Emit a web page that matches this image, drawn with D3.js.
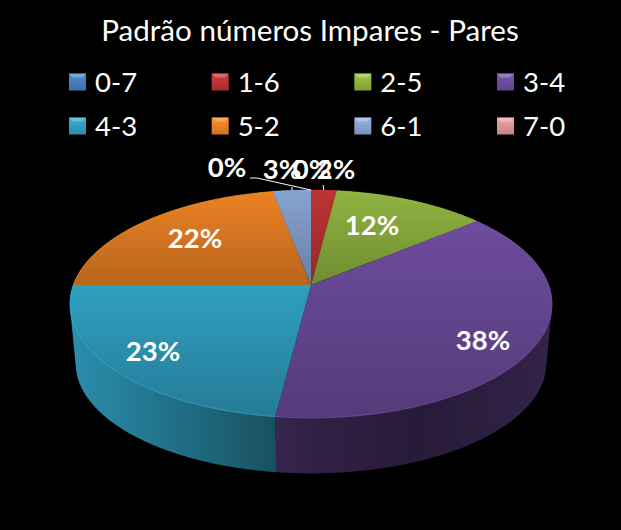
<!DOCTYPE html>
<html>
<head>
<meta charset="utf-8">
<script src="https://cdnjs.cloudflare.com/ajax/libs/d3/7.8.5/d3.min.js"></script>
<style>
  html, body { margin: 0; padding: 0; background: #000; }
  svg { display: block; }
  text { font-family: Lato, "Open Sans", sans-serif; fill: #fff; }
</style>
</head>
<body>
<div id="chart"></div>
<script>
// chart data
var title = "Padrão números Impares - Pares";
var categories = ["0-7", "1-6", "2-5", "3-4", "4-3", "5-2", "6-1", "7-0"];
var values = [0, 2, 12, 38, 23, 22, 3, 0];
var colors = ["#4a7ebb", "#be3333", "#90b340", "#6d4c9c", "#2f9fc0", "#ec8124", "#86a3d0", "#d99694"];

var width = 621, height = 530;

var svg = d3.select("#chart").append("svg")
    .attr("width", width)
    .attr("height", height);
svg.append("rect").attr("width", width).attr("height", height).attr("fill", "#000");
var defs = svg.append("defs");

// title
svg.append("text")
    .attr("x", 310)
    .attr("y", 41)
    .attr("text-anchor", "middle")
    .style("font-size", "29.6px")
    .text(title);

// legend, 4 columns by 2 rows
var legendX = d3.scalePoint().domain([0, 1, 2, 3]).range([69, 497]);
var legendY = d3.scalePoint().domain([0, 1]).range([82, 126]);
var swatch = 17;

var legend = svg.selectAll(".legend")
    .data(categories)
    .enter()
    .append("g")
    .attr("class", "legend")
    .attr("transform", function(d, i) {
        return "translate(" + legendX(i % 4) + "," + legendY(Math.floor(i / 4)) + ")";
    });

legend.each(function(d, i) {
    var id = "swatch" + i;
    var g = defs.append("linearGradient").attr("id", id).attr("x1", 0).attr("y1", 0).attr("x2", 0).attr("y2", 1);
    g.append("stop").attr("offset", "0%").attr("stop-color", d3.rgb(colors[i]).brighter(0.3));
    g.append("stop").attr("offset", "100%").attr("stop-color", d3.rgb(colors[i]).darker(0.35));
});
legend.append("rect")
    .attr("x", 0)
    .attr("y", -swatch / 2)
    .attr("width", swatch)
    .attr("height", swatch)
    .attr("fill", function(d, i) { return "url(#swatch" + i + ")"; });
// lighter bevel along the top of each swatch
legend.append("path")
    .attr("d", d3.line()([[0, -swatch / 2], [swatch, -swatch / 2], [swatch - 4, -swatch / 2 + 4], [4, -swatch / 2 + 4]]) + "Z")
    .attr("fill", "#fff")
    .attr("opacity", 0.25);
legend.append("text")
    .attr("x", 26)
    .attr("y", 10)
    .style("font-size", "27.5px")
    .text(function(d) { return d; });

// perspective pie: depth scale for a disc seen from the front
var persp = 1 / 6;
var topX = d3.scaleLinear().domain([-1, 1]).range([73.3, 548.7]);
var topY = d3.scaleLinear().domain([-1, 1]).range([174.2, 395.8]);
var botX = d3.scaleLinear().domain([-1, 1]).range([79, 543]);
var botY = d3.scaleLinear().domain([-1, 1]).range([238, 452]);

function project(angle, r, sx, sy) {
    var c = Math.sin(angle) * r,
        s = -Math.cos(angle) * r,   // s = 1 is the front of the pie
        w = 1 - persp * s;
    return [sx(c / w), sy(s / w)];
}

function arcPoints(a0, a1, sx, sy) {
    var n = Math.max(2, Math.ceil((a1 - a0) / 0.01));
    return d3.range(n + 1).map(function(i) {
        return project(a0 + (a1 - a0) * i / n, 1, sx, sy);
    });
}

var line = d3.line();
var slices = d3.pie().sort(null).startAngle(0).endAngle(2 * Math.PI)(values)
    .map(function(d, i) { d.i = i; return d; });
var drawn = slices.filter(function(d) { return d.value > 0; });

// side wall shading runs left to right over the whole pie
var wallStops = [[0, 0.9], [0.5, 0.44], [0.72, 0.36], [1, 0.46]];
drawn.forEach(function(d) {
    var g = defs.append("linearGradient").attr("id", "wall" + d.i)
        .attr("gradientUnits", "userSpaceOnUse")
        .attr("x1", 70).attr("x2", 552).attr("y1", 0).attr("y2", 0);
    wallStops.forEach(function(st) {
        var c = d3.rgb(colors[d.i]);
        g.append("stop").attr("offset", st[0])
            .attr("stop-color", d3.rgb(c.r * st[1], c.g * st[1], c.b * st[1]));
    });
    var pts = arcPoints(d.startAngle, d.endAngle, topX, topY).concat([project(0, 0, topX, topY)]);
    var ys = d3.extent(pts, function(p) { return p[1]; });
    var t = defs.append("linearGradient").attr("id", "face" + d.i)
        .attr("gradientUnits", "userSpaceOnUse")
        .attr("x1", 0).attr("x2", 0).attr("y1", ys[0]).attr("y2", ys[1]);
    var base = d3.rgb(colors[d.i]);
    t.append("stop").attr("offset", 0).attr("stop-color", base);
    t.append("stop").attr("offset", 1).attr("stop-color", d3.rgb(base.r * 0.78, base.g * 0.78, base.b * 0.78));
});

// walls back to front, the top faces cover whatever is behind
function depth(d) { return -Math.cos((d.startAngle + d.endAngle) / 2); }

svg.selectAll(".wall")
    .data(drawn.slice().sort(function(a, b) { return depth(a) - depth(b); }))
    .enter()
    .append("path")
    .attr("class", "wall")
    .attr("fill", function(d) { return "url(#wall" + d.i + ")"; })
    .attr("d", function(d) {
        // hull so the straight silhouette at the left and right gets filled too
        var up = arcPoints(d.startAngle, d.endAngle, topX, topY);
        var down = arcPoints(d.startAngle, d.endAngle, botX, botY);
        return line(d3.polygonHull(up.concat(down))) + "Z";
    });

svg.selectAll(".face")
    .data(drawn)
    .enter()
    .append("path")
    .attr("class", "face")
    .attr("fill", function(d) { return "url(#face" + d.i + ")"; })
    .attr("d", function(d) {
        var pts = arcPoints(d.startAngle, d.endAngle, topX, topY);
        return line([project(0, 0, topX, topY)].concat(pts)) + "Z";
    });

// thin light rim on the front edge
svg.selectAll(".rim")
    .data(drawn)
    .enter()
    .append("path")
    .attr("class", "rim")
    .attr("fill", "none")
    .attr("stroke", function(d) { return d3.rgb(colors[d.i]).brighter(0.6); })
    .attr("stroke-width", 0.8)
    .attr("opacity", 0.6)
    .attr("d", function(d) {
        return line(arcPoints(d.startAngle, d.endAngle, topX, topY));
    });

// leader lines for the small slices
var leaders = [
    {slice: 7, from: [[250, 178], [257, 178]]},
    {slice: 6, from: [[292, 187]]},
    {slice: 1, from: [[323, 185]]}
];
leaders.forEach(function(l) {
    var d = slices[l.slice];
    var end = project((d.startAngle + d.endAngle) / 2, 1, topX, topY);
    svg.append("path")
        .attr("fill", "none")
        .attr("stroke", "#fff")
        .attr("stroke-width", 1)
        .attr("d", line(l.from.concat([end])));
});

// data labels, in slice order
var labelPos = [[227, 167], [336, 169], [372, 225], [483, 340], [153, 351], [195, 238], [282, 169], [312, 169]];
var labelOrder = [0, 7, 6, 1, 2, 3, 4, 5];
var percent = values.map(function(v) { return v + "%"; });
svg.selectAll(".label")
    .data(labelOrder)
    .enter()
    .append("text")
    .attr("class", "label")
    .attr("x", function(i) { return labelPos[i][0]; })
    .attr("y", function(i) { return labelPos[i][1] + 10; })
    .attr("text-anchor", "middle")
    .style("font-size", "27.5px")
    .style("font-weight", "bold")
    .text(function(i) { return percent[i]; });
</script>
</body>
</html>
